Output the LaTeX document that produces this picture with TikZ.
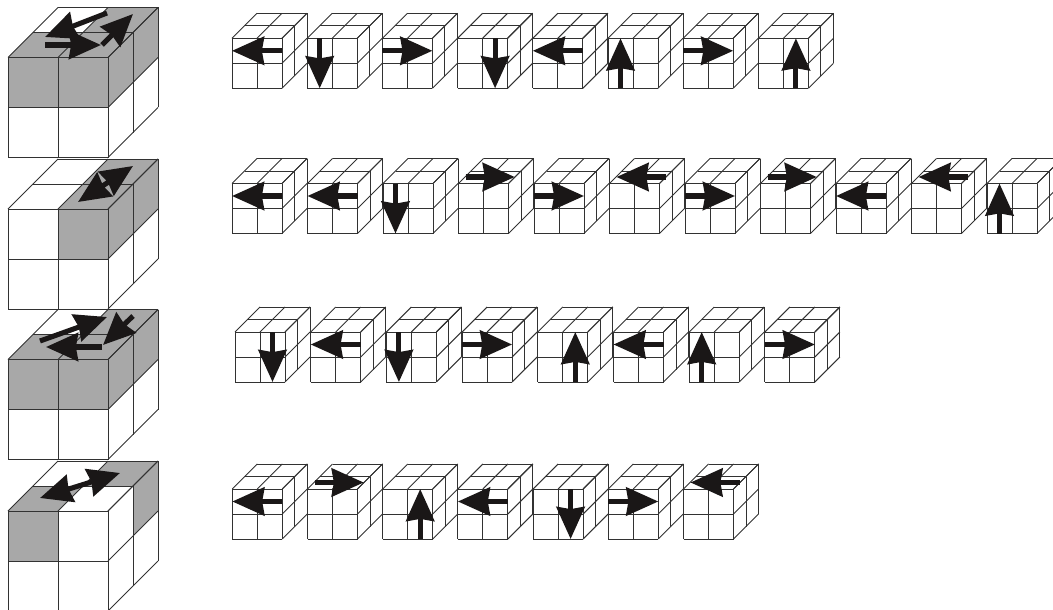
\documentclass[tikz,border=0pt]{standalone}
\usepackage{tikz}
\usetikzlibrary{arrows.meta}
\definecolor{cubeGray}{RGB}{168,168,168}
\definecolor{cubeLine}{RGB}{50,50,50}
\definecolor{moveBlack}{RGB}{26,23,23}

% one cube, unit = one front cell, origin = front top left
\newcommand{\cubegrid}{%
  \foreach \i in {0,1,2} {
    \draw[gridline] (\i,0) -- (\i,2);
    \draw[gridline] (0,\i) -- (2,\i);
    \draw[gridline] (\i,0) -- ++(1,-1);
    \draw[gridline] ({\i/2},{-\i/2}) -- ++(2,0);
    \draw[gridline] ({2+\i/2},{-\i/2}) -- ++(0,2);
    \draw[gridline] (2,\i) -- ++(1,-1);
  }}
\newcommand{\topcell}[2]{\fill[cubeGray] ({#1+#2/2},{-#2/2}) -- ++(1,0) -- ++(.5,-.5) -- ++(-1,0) -- cycle;}
\newcommand{\frontcell}[2]{\fill[cubeGray] (#1,#2) rectangle ++(1,1);}
\newcommand{\sidecell}[2]{\fill[cubeGray] ({2+#1/2},{#2-#1/2}) -- ++(.5,-.5) -- ++(0,1) -- ++(-.5,.5) -- cycle;}

% moves on a small cube
\newcommand{\mvL}{(2,.5) -- (0,.5)}
\newcommand{\mvR}{(0,.5) -- (2,.5)}
\newcommand{\mvDl}{(.5,0) -- (.5,2)}
\newcommand{\mvDr}{(1.5,0) -- (1.5,2)}
\newcommand{\mvUl}{(.5,2) -- (.5,0)}
\newcommand{\mvUr}{(1.5,2) -- (1.5,0)}
\newcommand{\mvTL}{(2.25,-.26) -- (.28,-.26)}
\newcommand{\mvTR}{(.28,-.26) -- (2.25,-.26)}

% #1 = left x, #2 = top y, #3 = spacing, #4 = list of moves
\newcommand{\moverow}[4]{%
  \foreach \mv [count=\n from 0] in {#4} {
    \begin{scope}[shift={({#1+\n*#3},#2)},scale=25]
      \cubegrid
      \draw[move] \mv;
    \end{scope}
  }}

\begin{document}
\begin{tikzpicture}[
    x=0.75pt, y=-0.75pt,
    gridline/.style={draw=cubeLine, line width=0.72pt},
    move/.style={draw=moveBlack, line width=3.8pt, ->},
    >={Stealth[length=24pt, width=21pt, inset=1.6pt]}
  ]
  \useasboundingbox (0,0) rectangle (1053,610);
  \clip (0,0) rectangle (1053,610);

  % big cubes
  \begin{scope}[shift={(8,57.5)},scale=50]
    \topcell{0}{0} \topcell{1}{0} \topcell{1}{1}
    \frontcell{0}{0} \frontcell{1}{0}
    \sidecell{0}{0} \sidecell{1}{0}
    \cubegrid
  \end{scope}
  \begin{scope}[shift={(8,209)},scale=50]
    \topcell{1}{0} \topcell{1}{1}
    \frontcell{1}{0}
    \sidecell{0}{0} \sidecell{1}{0}
    \cubegrid
  \end{scope}
  \begin{scope}[shift={(8,359.5)},scale=50]
    \topcell{0}{0} \topcell{1}{0} \topcell{1}{1}
    \frontcell{0}{0} \frontcell{1}{0}
    \sidecell{0}{0} \sidecell{1}{0}
    \cubegrid
  \end{scope}
  \begin{scope}[shift={(8,511)},scale=50]
    \topcell{0}{0} \topcell{1}{1}
    \frontcell{0}{0}
    \sidecell{1}{0}
    \cubegrid
  \end{scope}

  % arrows on the big cubes
  \draw[move] (107,13) -- (45,37);
  \draw[move] (45,45) -- (101,45);
  \draw[move] (102,45) -- (133,14);
  \draw[move,<->] (78,202) -- (133,166);
  \draw[move] (40,341) -- (107,317);
  \draw[move] (102,347) -- (46,347);
  \draw[move] (133,316) -- (103,345);
  \draw[move,<->] (40,498) -- (120,473);

  % move sequences
  \moverow{232}{38.3}{75.2}{\mvL,\mvDl,\mvR,\mvDr,\mvL,\mvUl,\mvR,\mvUr}
  \moverow{232}{183.5}{75.5}{\mvL,\mvL,\mvDl,\mvTR,\mvR,\mvTL,\mvR,\mvTR,\mvL,\mvTL,\mvUl}
  \moverow{235}{332}{75.7}{\mvDr,\mvL,\mvDl,\mvR,\mvUr,\mvL,\mvUl,\mvR}
  \moverow{232.3}{489}{75.2}{\mvL,\mvTR,\mvUr,\mvL,\mvDr,\mvR,\mvTL}
\end{tikzpicture}
\end{document}
